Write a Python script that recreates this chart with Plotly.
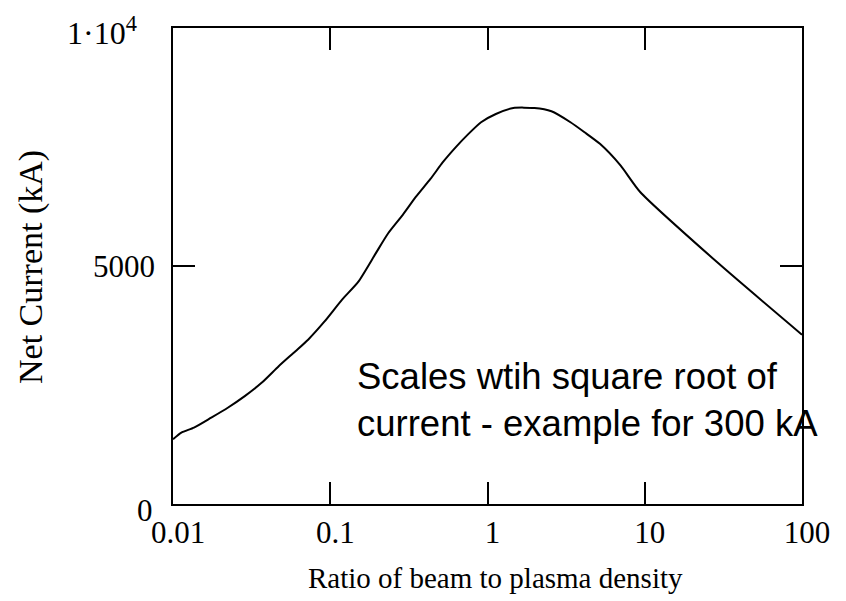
import plotly.graph_objects as go

# Data
ratio = [0.01, 0.0113, 0.0136, 0.0175, 0.0223, 0.0286, 0.0366, 0.047, 0.0601,
         0.0723, 0.092, 0.1186, 0.151, 0.1946, 0.233, 0.290, 0.35, 0.435, 0.52,
         0.629, 0.757, 0.91, 1.13, 1.46, 1.99, 2.55, 3.37, 4.14, 5.19, 7.01,
         9.35, 29.4, 100]
current = [1360, 1499, 1604, 1813, 2022, 2266, 2545, 2894, 3210,
           3452, 3835, 4289, 4672, 5265, 5683, 6080, 6450, 6834, 7180,
           7497, 7775, 8020, 8194, 8319, 8319, 8250, 8020, 7810, 7566, 7113,
           6555, 5056, 3556]

x_ticks = [0.01, 0.1, 1, 10, 100]
x_ticktext = ["0.01", "0.1", "1", "10", "100"]
y_ticks = [0, 5000, 10000]
y_ticktext = ["0", "5000", "1·10<sup>4</sup>"]

serif = "Liberation Serif, Times New Roman, serif"
sans = "Liberation Sans, Arial, sans-serif"

fig = go.Figure()
fig.add_trace(go.Scatter(x=ratio, y=current, mode="lines",
                         line=dict(color="black", width=2, shape="spline",
                                   smoothing=0.6),
                         showlegend=False))

fig.update_layout(
    width=846, height=601,
    margin=dict(l=173, r=44, t=28, b=97),
    plot_bgcolor="white", paper_bgcolor="white",
    font=dict(family=serif, size=31, color="black"),
)
fig.update_xaxes(
    type="log", range=[-2, 2],
    tickvals=x_ticks, ticktext=x_ticktext,
    ticks="inside", ticklen=22, tickwidth=2, tickcolor="black",
    showline=True, linewidth=2, linecolor="black", mirror="ticks",
    showgrid=False, zeroline=False,
    tickfont=dict(family=serif, size=31),
    ticklabelstandoff=0, ticklabelshift=5,
)
fig.update_yaxes(
    range=[0, 10000],
    tickvals=y_ticks, showticklabels=False,
    ticks="inside", ticklen=22, tickwidth=2, tickcolor="black",
    showline=True, linewidth=2, linecolor="black", mirror="ticks",
    showgrid=False, zeroline=False,
)

# y tick labels (Mathcad-style placement): value -> (right edge px, centre y px)
ylab_pos = {0: (155, 510), 5000: (157, 266), 10000: (139, 31)}
for val, txt in zip(y_ticks, y_ticktext):
    xr, yc = ylab_pos[val]
    fig.add_annotation(x=0, xref="paper", y=val, yref="y",
                       text=txt, showarrow=False, xanchor="right",
                       yanchor="middle", xshift=xr - 173,
                       yshift=-(yc - (504 - val / 10000 * 476)),
                       font=dict(family=serif, size=32 if val == 10000 else 31))

# axis titles
fig.add_annotation(x=0.5, xref="paper", y=0, yref="paper", yshift=-74, xshift=8,
                   text="Ratio of beam to plasma density", showarrow=False,
                   xanchor="center", yanchor="middle",
                   font=dict(family=serif, size=29))
fig.add_annotation(x=0, xref="paper", y=0.5, yref="paper", xshift=-142,
                   yshift=-1, text="Net Current (kA)", showarrow=False,
                   textangle=-90, xanchor="center", yanchor="middle",
                   font=dict(family=serif, size=34))

# note
fig.add_annotation(x=0.2893, xref="paper", y=0.218, yref="paper",
                   text="Scales wtih square root of<br>current - example for 300 kA",
                   showarrow=False, xanchor="left", yanchor="middle", align="left",
                   font=dict(family=sans, size=36.5, color="black"))

fig.write_html("out.html")
